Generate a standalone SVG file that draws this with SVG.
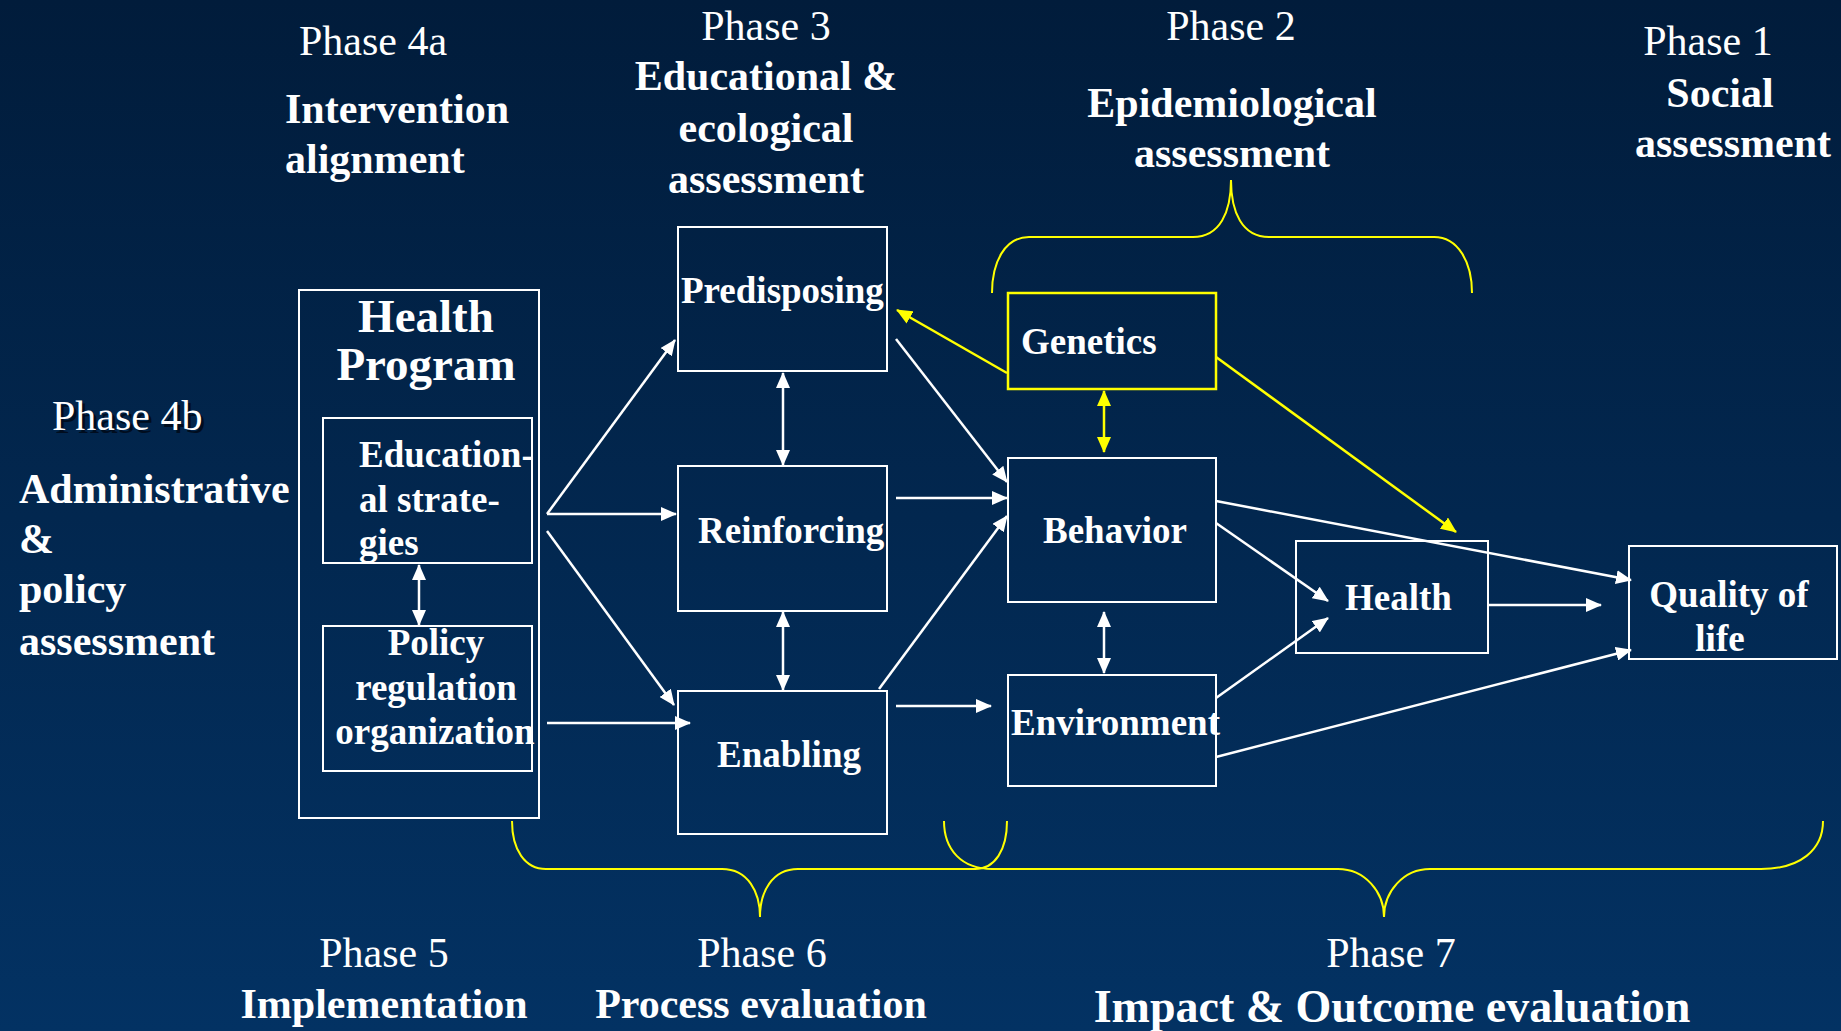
<svg xmlns="http://www.w3.org/2000/svg" width="1841" height="1031" viewBox="0 0 1841 1031">
<defs>
<linearGradient id="bg" x1="0" y1="0" x2="0" y2="1">
<stop offset="0" stop-color="#011c3b"/>
<stop offset="1" stop-color="#033263"/>
</linearGradient>
<marker id="aw" markerUnits="userSpaceOnUse" markerWidth="16" markerHeight="14" refX="15" refY="7" orient="auto-start-reverse"><path d="M0,0 L16,7 L0,14 z" fill="#ffffff"/></marker>
<marker id="ay" markerUnits="userSpaceOnUse" markerWidth="16" markerHeight="14" refX="15" refY="7" orient="auto-start-reverse"><path d="M0,0 L16,7 L0,14 z" fill="#ffff00"/></marker>
<style>
.t{font-family:"Liberation Serif","Times New Roman",serif;fill:#ffffff;font-size:42px}
.b{font-weight:bold}
.m{text-anchor:middle}
.box{fill:none;stroke:#ffffff;stroke-width:2}
.ybox{fill:none;stroke:#ffff00;stroke-width:2.5}
.w{stroke:#ffffff;stroke-width:2.5;fill:none}
.y{stroke:#ffff00;stroke-width:2.5;fill:none}
.br{stroke:#ffff00;stroke-width:2;fill:none}
.nt{font-size:37px}
.hp{font-size:47px}
</style>
</defs>
<rect x="0" y="0" width="1841" height="1031" fill="url(#bg)"/>

<g id="labels">
<text class="t" x="299" y="55">Phase 4a</text>
<text class="t b" x="285" y="123">Intervention</text>
<text class="t b" x="285" y="173">alignment</text>
<text class="t m" x="766" y="40">Phase 3</text>
<text class="t b m" x="766" y="90">Educational &amp;</text>
<text class="t b m" x="766" y="142">ecological</text>
<text class="t b m" x="766" y="193">assessment</text>
<text class="t m" x="1231" y="40">Phase 2</text>
<text class="t b m" x="1232" y="117">Epidemiological</text>
<text class="t b m" x="1232" y="167">assessment</text>
<text class="t m" x="1708" y="55">Phase 1</text>
<text class="t b m" x="1720" y="107">Social</text>
<text class="t b m" x="1733" y="157">assessment</text>
<text class="t" x="55" y="433" style="fill:#000814;opacity:0.8">Phase 4b</text>
<text class="t" x="52" y="430">Phase 4b</text>
<text class="t b" x="19" y="503">Administrative</text>
<text class="t b" x="19" y="553">&amp;</text>
<text class="t b" x="19" y="603">policy</text>
<text class="t b" x="19" y="655">assessment</text>
<text class="t m" x="384" y="967">Phase 5</text>
<text class="t m" x="762" y="967">Phase 6</text>
<text class="t m" x="1391" y="967">Phase 7</text>
<text class="t b m" x="384" y="1018">Implementation</text>
<text class="t b m" x="761" y="1018">Process evaluation</text>
<text class="t b m" x="1392" y="1022" style="font-size:46px">Impact &amp; Outcome evaluation</text>
</g>

<g id="braces">
<path class="br" d="M992,293 C992,262 1005,237 1029,237 L1193,237 C1220,237 1231,212 1231,180 C1231,212 1242,237 1269,237 L1434,237 C1458,237 1472,262 1472,293"/>
<path class="br" d="M512,821 C512,850 525,869 546,869 L722,869 C748,869 760,892 760,917 C760,892 772,869 798,869 L975,869 C995,869 1007,850 1007,821"/>
<path class="br" d="M944,821 C944,850 962,869 992,869 L1338,869 C1365,869 1384,892 1384,917 C1384,892 1403,869 1430,869 L1761,869 C1800,869 1823,850 1823,821"/>
</g>

<g id="health-program">
<rect class="box" x="299" y="290" width="240" height="528"/>
<text class="t b m hp" x="426" y="332">Health</text>
<text class="t b m hp" x="426" y="380">Program</text>
</g>
<g id="educational-strategies">
<rect class="box" x="323" y="418" width="209" height="145"/>
<text class="t b nt" x="359" y="467">Education-</text>
<text class="t b nt" x="359" y="512">al strate-</text>
<text class="t b nt" x="359" y="555">gies</text>
</g>
<g id="policy">
<rect class="box" x="323" y="626" width="209" height="145"/>
<text class="t b m nt" x="436" y="655">Policy</text>
<text class="t b m nt" x="436" y="700">regulation</text>
<text class="t b m nt" x="435" y="744">organization</text>
</g>
<g id="predisposing">
<rect class="box" x="678" y="227" width="209" height="144"/>
<text class="t b nt" x="681" y="303">Predisposing</text>
</g>
<g id="reinforcing">
<rect class="box" x="678" y="466" width="209" height="145"/>
<text class="t b nt" x="698" y="543">Reinforcing</text>
</g>
<g id="enabling">
<rect class="box" x="678" y="691" width="209" height="143"/>
<text class="t b nt" x="717" y="767">Enabling</text>
</g>
<g id="genetics">
<rect class="ybox" x="1008" y="293" width="208" height="96"/>
<text class="t b nt" x="1021" y="354">Genetics</text>
</g>
<g id="behavior">
<rect class="box" x="1008" y="458" width="208" height="144"/>
<text class="t b nt" x="1043" y="543">Behavior</text>
</g>
<g id="environment">
<rect class="box" x="1008" y="675" width="208" height="111"/>
<text class="t b nt" x="1011" y="735">Environment</text>
</g>
<g id="health">
<rect class="box" x="1296" y="541" width="192" height="112"/>
<text class="t b nt" x="1345" y="610">Health</text>
</g>
<g id="quality-of-life">
<rect class="box" x="1629" y="546" width="208" height="113"/>
<text class="t b m nt" x="1729" y="607">Quality of</text>
<text class="t b m nt" x="1720" y="651">life</text>
</g>

<g id="connectors">
<line class="w" x1="547" y1="514" x2="675" y2="340" marker-end="url(#aw)"/>
<line class="w" x1="547" y1="514" x2="676" y2="514" marker-end="url(#aw)"/>
<line class="w" x1="547" y1="531" x2="674" y2="705" marker-end="url(#aw)"/>
<line class="w" x1="547" y1="723" x2="690" y2="723" marker-end="url(#aw)"/>
<line class="w" x1="419" y1="565" x2="419" y2="625" marker-start="url(#aw)" marker-end="url(#aw)"/>
<line class="w" x1="783" y1="373" x2="783" y2="465" marker-start="url(#aw)" marker-end="url(#aw)"/>
<line class="w" x1="783" y1="612" x2="783" y2="690" marker-start="url(#aw)" marker-end="url(#aw)"/>
<line class="w" x1="896" y1="339" x2="1007" y2="482" marker-end="url(#aw)"/>
<line class="w" x1="896" y1="498" x2="1007" y2="498" marker-end="url(#aw)"/>
<line class="w" x1="879" y1="689" x2="1007" y2="516" marker-end="url(#aw)"/>
<line class="w" x1="896" y1="706" x2="991" y2="706" marker-end="url(#aw)"/>
<line class="y" x1="1007" y1="373" x2="897" y2="310" marker-end="url(#ay)"/>
<line class="y" x1="1104" y1="391" x2="1104" y2="452" marker-start="url(#ay)" marker-end="url(#ay)"/>
<line class="y" x1="1216" y1="357" x2="1456" y2="532" marker-end="url(#ay)"/>
<line class="w" x1="1216" y1="501" x2="1631" y2="580" marker-end="url(#aw)"/>
<line class="w" x1="1216" y1="523" x2="1328" y2="601" marker-end="url(#aw)"/>
<line class="w" x1="1104" y1="612" x2="1104" y2="673" marker-start="url(#aw)" marker-end="url(#aw)"/>
<line class="w" x1="1216" y1="698" x2="1328" y2="618" marker-end="url(#aw)"/>
<line class="w" x1="1216" y1="757" x2="1631" y2="650" marker-end="url(#aw)"/>
<line class="w" x1="1488" y1="605" x2="1601" y2="605" marker-end="url(#aw)"/>
</g>
</svg>
